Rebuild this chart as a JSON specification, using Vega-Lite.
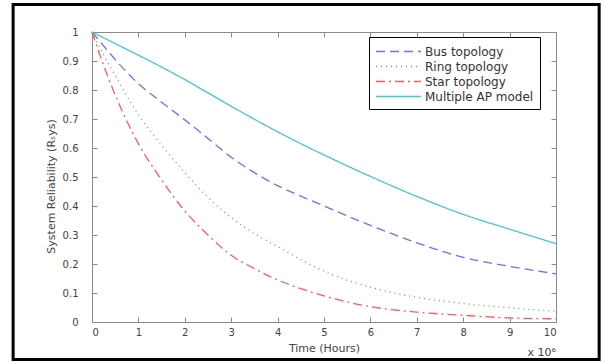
{
  "$schema": "https://vega.github.io/schema/vega-lite/v6.json",
  "width": 464,
  "height": 290,
  "autosize": {"type": "none"},
  "padding": {"left": 92, "top": 32, "right": 50, "bottom": 40},
  "background": "white",
  "config": {
    "view": {"stroke": null},
    "font": "DejaVu Sans",
    "axis": {
      "domainColor": "#8a8a8a",
      "tickColor": "#8a8a8a",
      "tickSize": -5,
      "grid": false,
      "labelColor": "#444444",
      "labelFontSize": 10,
      "labelFont": "DejaVu Sans",
      "titleFont": "DejaVu Sans",
      "titleColor": "#444444",
      "titleFontSize": 11,
      "titleFontWeight": "normal"
    }
  },
  "datasets": {
    "frame": [{"fx": -1.70, "fx2": 10.93, "fy": -0.129, "fy2": 1.095}],
    "note": [{"tx": 10, "ty": -0.108, "label": "x 10⁶"}],
    "curves": [
      {"t": 0, "r": 1, "series": "Bus topology"},
      {"t": 0.25, "r": 0.952, "series": "Bus topology"},
      {"t": 0.5, "r": 0.905, "series": "Bus topology"},
      {"t": 1, "r": 0.822, "series": "Bus topology"},
      {"t": 1.5, "r": 0.758, "series": "Bus topology"},
      {"t": 2, "r": 0.697, "series": "Bus topology"},
      {"t": 2.5, "r": 0.633, "series": "Bus topology"},
      {"t": 3, "r": 0.568, "series": "Bus topology"},
      {"t": 3.5, "r": 0.515, "series": "Bus topology"},
      {"t": 4, "r": 0.47, "series": "Bus topology"},
      {"t": 4.5, "r": 0.434, "series": "Bus topology"},
      {"t": 5, "r": 0.4, "series": "Bus topology"},
      {"t": 6, "r": 0.333, "series": "Bus topology"},
      {"t": 7, "r": 0.273, "series": "Bus topology"},
      {"t": 8, "r": 0.223, "series": "Bus topology"},
      {"t": 9, "r": 0.192, "series": "Bus topology"},
      {"t": 10, "r": 0.166, "series": "Bus topology"},
      {"t": 0, "r": 1, "series": "Ring topology"},
      {"t": 0.25, "r": 0.92, "series": "Ring topology"},
      {"t": 0.5, "r": 0.85, "series": "Ring topology"},
      {"t": 1, "r": 0.715, "series": "Ring topology"},
      {"t": 1.5, "r": 0.61, "series": "Ring topology"},
      {"t": 2, "r": 0.515, "series": "Ring topology"},
      {"t": 2.5, "r": 0.43, "series": "Ring topology"},
      {"t": 3, "r": 0.36, "series": "Ring topology"},
      {"t": 3.5, "r": 0.305, "series": "Ring topology"},
      {"t": 4, "r": 0.26, "series": "Ring topology"},
      {"t": 5, "r": 0.175, "series": "Ring topology"},
      {"t": 6, "r": 0.12, "series": "Ring topology"},
      {"t": 7, "r": 0.085, "series": "Ring topology"},
      {"t": 8, "r": 0.064, "series": "Ring topology"},
      {"t": 9, "r": 0.049, "series": "Ring topology"},
      {"t": 10, "r": 0.037, "series": "Ring topology"},
      {"t": 0, "r": 1, "series": "Star topology"},
      {"t": 0.25, "r": 0.885, "series": "Star topology"},
      {"t": 0.5, "r": 0.783, "series": "Star topology"},
      {"t": 1, "r": 0.615, "series": "Star topology"},
      {"t": 1.5, "r": 0.49, "series": "Star topology"},
      {"t": 2, "r": 0.383, "series": "Star topology"},
      {"t": 2.5, "r": 0.3, "series": "Star topology"},
      {"t": 3, "r": 0.23, "series": "Star topology"},
      {"t": 3.5, "r": 0.184, "series": "Star topology"},
      {"t": 4, "r": 0.145, "series": "Star topology"},
      {"t": 4.5, "r": 0.115, "series": "Star topology"},
      {"t": 5, "r": 0.09, "series": "Star topology"},
      {"t": 6, "r": 0.053, "series": "Star topology"},
      {"t": 7, "r": 0.034, "series": "Star topology"},
      {"t": 8, "r": 0.023, "series": "Star topology"},
      {"t": 9, "r": 0.014, "series": "Star topology"},
      {"t": 10, "r": 0.011, "series": "Star topology"},
      {"t": 0, "r": 1, "series": "Multiple AP model"},
      {"t": 0.5, "r": 0.96, "series": "Multiple AP model"},
      {"t": 1, "r": 0.92, "series": "Multiple AP model"},
      {"t": 1.5, "r": 0.879, "series": "Multiple AP model"},
      {"t": 2, "r": 0.836, "series": "Multiple AP model"},
      {"t": 2.5, "r": 0.79, "series": "Multiple AP model"},
      {"t": 3, "r": 0.744, "series": "Multiple AP model"},
      {"t": 3.5, "r": 0.699, "series": "Multiple AP model"},
      {"t": 4, "r": 0.656, "series": "Multiple AP model"},
      {"t": 4.5, "r": 0.615, "series": "Multiple AP model"},
      {"t": 5, "r": 0.576, "series": "Multiple AP model"},
      {"t": 6, "r": 0.502, "series": "Multiple AP model"},
      {"t": 7, "r": 0.433, "series": "Multiple AP model"},
      {"t": 8, "r": 0.371, "series": "Multiple AP model"},
      {"t": 9, "r": 0.32, "series": "Multiple AP model"},
      {"t": 10, "r": 0.27, "series": "Multiple AP model"}
    ]
  },
  "layer": [
    {
      "data": {"name": "frame"},
      "mark": {"type": "rect", "filled": false, "stroke": "black", "strokeWidth": 3, "clip": false},
      "encoding": {
        "x": {"field": "fx", "type": "quantitative", "scale": {"domain": [0, 10], "nice": false, "zero": false},
              "axis": {"orient": "top", "labels": false, "title": null, "values": [0,1,2,3,4,5,6,7,8,9,10]}},
        "x2": {"field": "fx2"},
        "y": {"field": "fy", "type": "quantitative", "scale": {"domain": [0, 1], "nice": false, "zero": false},
              "axis": {"orient": "right", "labels": false, "title": null, "values": [0,0.1,0.2,0.3,0.4,0.5,0.6,0.7,0.8,0.9,1]}},
        "y2": {"field": "fy2"}
      }
    },
    {
      "data": {"name": "curves"},
      "mark": {"type": "line", "strokeWidth": 1.3, "interpolate": "monotone"},
      "encoding": {
        "x": {"field": "t", "type": "quantitative", "scale": {"domain": [0, 10], "nice": false, "zero": false},
              "axis": {"orient": "bottom", "title": "Time (Hours)", "values": [0,1,2,3,4,5,6,7,8,9,10], "labelPadding": 10, "titlePadding": 5}},
        "y": {"field": "r", "type": "quantitative", "scale": {"domain": [0, 1], "nice": false, "zero": false},
              "axis": {"orient": "left", "title": "System Reliability (Rₛys)", "values": [0,0.1,0.2,0.3,0.4,0.5,0.6,0.7,0.8,0.9,1], "format": "~g", "labelPadding": 19, "titlePadding": 6, "titleY": 154}},
        "color": {"field": "series", "type": "nominal",
                  "scale": {"domain": ["Bus topology", "Ring topology", "Star topology", "Multiple AP model"],
                            "range": ["#6f6fff", "#55b055", "#ff5a5a", "#45c8c8"]},
                  "legend": {"title": null, "orient": "none", "legendX": 277, "legendY": 5,
                             "strokeColor": "black", "fillColor": "white", "padding": 6,
                             "symbolType": "M-1,0H5", "symbolSize": 225, "symbolStrokeWidth": 1.3,
                             "labelFont": "DejaVu Sans", "labelFontSize": 12, "labelColor": "#333333", "labelOffset": 33, "rowPadding": 0}},
        "strokeDash": {"field": "series", "type": "nominal",
                       "scale": {"domain": ["Bus topology", "Ring topology", "Star topology", "Multiple AP model"],
                                 "range": [[9, 5], [1, 4], [9, 4, 2, 4], [1, 0]]},
                       "legend": null},
        "order": {"field": "t", "type": "quantitative"}
      }
    },
    {
      "data": {"name": "note"},
      "mark": {"type": "text", "align": "right", "baseline": "middle", "fontSize": 11, "font": "DejaVu Sans", "color": "#444444", "clip": false},
      "encoding": {
        "x": {"field": "tx", "type": "quantitative", "scale": {"domain": [0, 10], "nice": false, "zero": false}, "axis": null},
        "y": {"field": "ty", "type": "quantitative", "scale": {"domain": [0, 1], "nice": false, "zero": false}, "axis": null},
        "text": {"field": "label"}
      }
    }
  ],
  "resolve": {"axis": {"x": "independent", "y": "independent"}}
}
